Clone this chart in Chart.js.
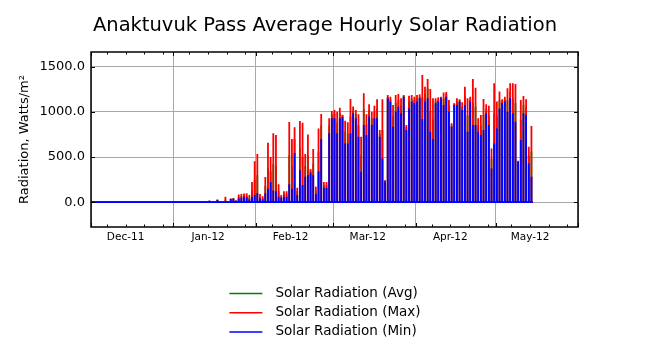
<!DOCTYPE html>
<html>
<head>
<meta charset="utf-8">
<script src="https://cdn.jsdelivr.net/npm/chart.js@4.4.1/dist/chart.umd.min.js"></script>
<style>
  html, body { margin: 0; padding: 0; background: #fff; }
</style>
</head>
<body>
<canvas id="myChart" width="650" height="350"></canvas>
<script>
// daily peak of the hourly series, one value per day starting 1 Dec 2011
const firstDay = Date.UTC(2011, 11, 1);

const avgPeak = [
  // Dec
  0,0,0,0,0,0,0,0,0,0, 0,0,0,0,0,0,0,0,0,0, 0,0,0,0,0,0,0,0,0,0, 0,
  // Jan
  0,0,0,0,0,0,0,0,0,0, 0,0,0,15,5,0,28,5,0,30, 8,38,42,18,60,68,75,75,50,130, 250,
  // Feb
  300,60,45,180,380,340,420,400,120,65, 90,90,520,400,700,120,600,500,400,520, 350,420,120,560,850,190,190,850,970,
  // Mar
  980,880,990,960,780,760,950,1020,980,850, 520,1030,860,1020,930,1000,1040,760,800,240,
  1170,1140,950,1100,1130,1070,1180,830,1110,1150, 1130,
  // Apr
  1150,1170,1160,1200,1260,1010,920,1120,1140,1160, 1150,1200,1070,850,1090,1110,1130,1060,1180,960,
  1140,1100,1060,850,850,970,1030,960,480,980,
  // May
  960,1130,1120,1140,1130,1230,1150,1100,455,910, 1080,1050,520,560
];

const maxPeak = [
  // Dec
  0,0,0,0,0,0,0,0,0,0, 0,0,0,0,0,0,0,0,0,0, 0,0,0,0,0,0,0,0,0,0, 0,
  // Jan
  0,0,0,0,0,0,0,0,0,0, 0,0,0,15,5,0,30,5,0,60, 10,40,45,20,85,90,95,100,80,225, 455,
  // Feb
  535,90,65,280,660,500,765,745,200,80, 120,120,890,700,830,160,900,880,533,750, 367,590,170,818,978,225,225,930,1010,
  // Mar
  1022,1003,1048,970,904,885,1144,1060,1022,974, 726,1207,974,1085,1000,1070,1140,800,1140,244,
  1189,1170,1078,1189,1200,1152,1189,855,1180,1189, 1170,
  // Apr
  1189,1196,1411,1281,1367,1256,1152,1152,1163,1170, 1215,1222,1133,874,1096,1152,1140,1107,1281,1152,
  1170,1367,1270,930,967,1144,1085,1070,596,1318,
  // May
  1115,1226,1140,1170,1263,1318,1318,1310,460,1133, 1178,1140,615,844
];

const minPeak = [
  // Dec
  0,0,0,0,0,0,0,0,0,0, 0,0,0,0,0,0,0,0,0,0, 0,0,0,0,0,0,0,0,0,0, 0,
  // Jan
  0,0,0,0,0,0,0,0,0,0, 0,0,0,15,5,0,25,5,0,10, 5,35,40,15,40,50,60,55,30,60, 80,
  // Feb
  100,40,30,100,150,225,130,120,60,50, 60,60,200,150,545,80,355,190,281,300, 330,300,90,340,700,160,160,765,930,
  // Mar
  930,763,930,945,652,652,763,985,930,726, 337,855,744,950,855,930,930,726,485,230,
  1152,1115,837,1004,1059,985,1170,800,1040,1115, 1096,
  // Apr
  1115,1152,922,1115,1152,781,700,1096,1115,1152, 1078,1170,1004,837,1078,1078,1115,1022,1078,781,
  1115,855,855,781,744,800,985,855,374,652,
  // May
  818,1040,1100,1115,1000,1152,985,893,448,689, 985,967,430,281
];

const seriesNames = ['Solar Radiation (Avg)', 'Solar Radiation (Max)', 'Solar Radiation (Min)'];
const seriesColors = ['#008000', '#ff0000', '#0000ff'];

const months = [[2011, 11], [2012, 0], [2012, 1], [2012, 2], [2012, 3], [2012, 4], [2012, 5]];
const monthLabels = ['Dec-11', 'Jan-12', 'Feb-12', 'Mar-12', 'Apr-12', 'May-12'];
const yTicks = [0, 500, 1000, 1500];

const dayIndex = (y, m, d) => Math.round((Date.UTC(y, m, d) - firstDay) / 864e5);
const monthStarts = months.map(([y, m]) => dayIndex(y, m, 1));
const labelDays = months.slice(0, 6).map(([y, m]) => dayIndex(y, m, 14));
const weekDays = [];
months.slice(0, 6).forEach(([y, m]) => [7, 14, 21, 28].forEach(d => weekDays.push(dayIndex(y, m, d))));
const xTickDays = monthStarts.concat(labelDays).sort((a, b) => a - b);

// each day drawn as a spike from zero up to its peak and back
function spikes(peaks) {
  const pts = [{x: 0, y: 0}];
  peaks.forEach((v, i) => {
    pts.push({x: i + 0.5, y: 0}, {x: i + 0.5, y: v}, {x: i + 0.5, y: 0});
  });
  pts.push({x: peaks.length, y: 0});
  return pts;
}

const FONT = "'DejaVu Sans', sans-serif";
const GRID = '#a9a9a9';

const frame = {
  id: 'frame',
  afterDraw(chart) {
    const {ctx, chartArea: a, scales: {x, y}} = chart;
    ctx.save();
    ctx.strokeStyle = '#000';
    ctx.lineWidth = 1;
    ctx.beginPath();
    yTicks.forEach(v => {
      const py = Math.round(y.getPixelForValue(v)) + 0.5;
      ctx.moveTo(a.left, py); ctx.lineTo(a.left + 4, py);
      ctx.moveTo(a.right, py); ctx.lineTo(a.right - 4, py);
    });
    monthStarts.forEach(d => {
      const px = Math.round(x.getPixelForValue(d)) + 0.5;
      ctx.moveTo(px, a.top); ctx.lineTo(px, a.top + 4);
      ctx.moveTo(px, a.bottom); ctx.lineTo(px, a.bottom - 4);
    });
    weekDays.forEach(d => {
      const px = Math.round(x.getPixelForValue(d)) + 0.5;
      ctx.moveTo(px, a.top); ctx.lineTo(px, a.top + 2.5);
      ctx.moveTo(px, a.bottom); ctx.lineTo(px, a.bottom - 2.5);
    });
    ctx.stroke();
    ctx.lineWidth = 1.5;
    ctx.strokeRect(a.left, a.top, a.right - a.left, a.bottom - a.top);
    ctx.restore();
  }
};

// legend stacked in one column under the plot
const stackedLegend = {
  id: 'stackedLegend',
  afterDraw(chart) {
    const ctx = chart.ctx;
    ctx.save();
    ctx.font = '13.5px ' + FONT;
    ctx.textBaseline = 'middle';
    const textW = Math.max(...seriesNames.map(s => ctx.measureText(s).width));
    const x0 = (chart.width - (33 + 13 + textW)) / 2;
    chart.data.datasets.forEach((ds, i) => {
      const yy = 293.5 + i * 19.2;
      ctx.strokeStyle = ds.borderColor;
      ctx.lineWidth = 1.5;
      ctx.beginPath();
      ctx.moveTo(x0, yy); ctx.lineTo(x0 + 33, yy);
      ctx.stroke();
      ctx.fillStyle = '#000';
      ctx.fillText(ds.label, x0 + 46, yy);
    });
    ctx.restore();
  }
};

const ctx = document.getElementById('myChart');

new Chart(ctx, {
  type: 'line',
  data: {
    datasets: [
      {label: seriesNames[0], data: spikes(avgPeak), borderColor: seriesColors[0], order: 2},
      {label: seriesNames[1], data: spikes(maxPeak), borderColor: seriesColors[1], order: 1},
      {label: seriesNames[2], data: spikes(minPeak), borderColor: seriesColors[2], order: 0}
    ]
  },
  plugins: [frame, stackedLegend],
  options: {
    responsive: false,
    devicePixelRatio: 1,
    animation: false,
    layout: {padding: {left: 0, right: 0, top: 0, bottom: 103}},
    elements: {
      point: {radius: 0},
      line: {borderWidth: 1.8, tension: 0, fill: false}
    },
    plugins: {
      legend: {display: false},
      tooltip: {enabled: false},
      title: {
        display: true,
        text: 'Anaktuvuk Pass Average Hourly Solar Radiation',
        color: '#000',
        font: {family: FONT, size: 19.5, weight: 'normal'},
        padding: {top: 14, bottom: 14.6}
      }
    },
    scales: {
      x: {
        type: 'linear',
        min: 0,
        max: monthStarts[monthStarts.length - 1],
        afterBuildTicks: s => { s.ticks = xTickDays.map(v => ({value: v})); },
        afterFit: s => { s.height = 20; },
        ticks: {
          autoSkip: false,
          maxRotation: 0,
          padding: 4,
          color: '#000',
          font: {family: FONT, size: 10.5},
          callback: v => {
            const k = labelDays.indexOf(v);
            return k >= 0 ? monthLabels[k] : '';
          }
        },
        grid: {
          drawTicks: false,
          color: c => (c.tick && monthStarts.includes(c.tick.value)) ? GRID : 'rgba(0,0,0,0)'
        },
        border: {display: false}
      },
      y: {
        min: -275,
        max: 1665,
        afterBuildTicks: s => { s.ticks = yTicks.map(v => ({value: v})); },
        afterFit: s => { s.width = 91; },
        ticks: {
          padding: 6,
          color: '#000',
          font: {family: FONT, size: 13},
          callback: v => v.toFixed(1)
        },
        grid: {drawTicks: false, color: GRID},
        border: {display: false},
        title: {
          display: true,
          text: 'Radiation, Watts/m²',
          color: '#000',
          font: {family: FONT, size: 13},
          padding: {top: 17, bottom: 4}
        }
      },
      // empty right-hand margin so the plot ends where the original does
      yRight: {
        position: 'right',
        afterFit: s => { s.width = 72; },
        ticks: {display: false},
        grid: {display: false},
        border: {display: false}
      }
    }
  }
});
</script>
</body>
</html>
